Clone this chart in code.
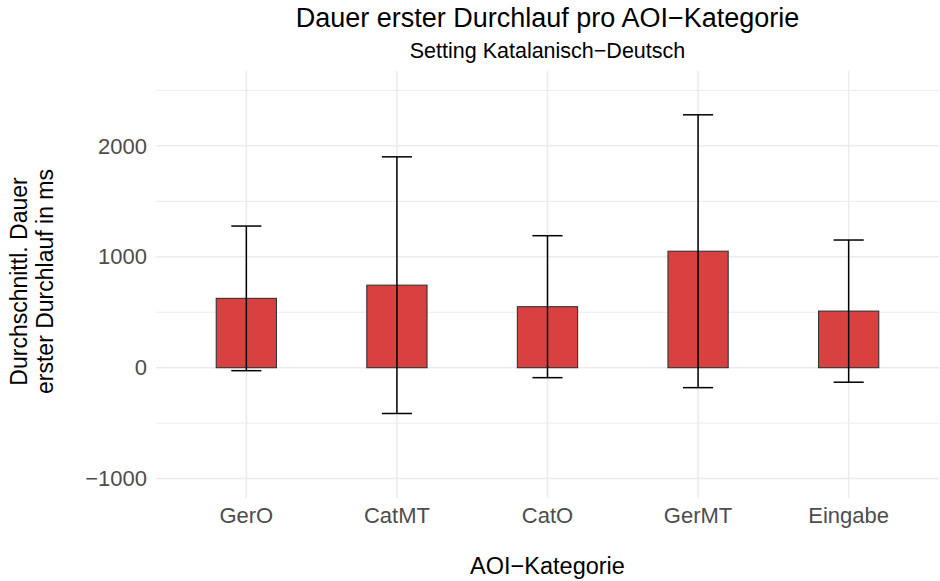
<!DOCTYPE html>
<html>
<head>
<meta charset="utf-8">
<script src="https://cdn.jsdelivr.net/npm/d3@7"></script>
<style>
  body { margin: 0; background: #fff; }
  svg { font-family: "Liberation Sans", Arial, sans-serif; display: block; }
  .grid line { stroke: #ebebeb; }
  .tick-label { fill: #4d4d4d; font-size: 22px; }
</style>
</head>
<body>
<div id="app"></div>
<script>
// data
const categories = ["GerO", "CatMT", "CatO", "GerMT", "Eingabe"];
const meanValues = [625, 744, 550, 1050, 510];
const sdValues = [652, 1157, 640, 1230, 641];
const majorTicks = [-1000, 0, 1000, 2000];
const minorTicks = [-500, 500, 1500, 2500];
const yLimits = [-1000, 2500];

const chart = {
  width: 940,
  height: 581,
  left: 156,
  right: 939,
  top: 71,
  bottom: 498,
};

const svg = d3
  .select("#app")
  .append("svg")
  .attr("width", chart.width)
  .attr("height", chart.height);

// ggplot style 5% expansion on the limits
const span = yLimits[1] - yLimits[0];
const yScale = d3
  .scaleLinear()
  .domain([yLimits[0] - span * 0.05, yLimits[1] + span * 0.05])
  .range([chart.bottom, chart.top]);

const xScale = d3
  .scalePoint()
  .domain(categories)
  .range([chart.left, chart.right])
  .padding(0.6);
const step = xScale.step();

//grid lines
const grid = svg.append("g").attr("class", "grid");
grid
  .selectAll("line.minor")
  .data(minorTicks)
  .join("line")
  .attr("class", "minor")
  .attr("x1", chart.left)
  .attr("x2", chart.right)
  .attr("y1", (d) => yScale(d))
  .attr("y2", (d) => yScale(d))
  .attr("stroke-width", 1);
grid
  .selectAll("line.major-y")
  .data(majorTicks)
  .join("line")
  .attr("class", "major-y")
  .attr("x1", chart.left)
  .attr("x2", chart.right)
  .attr("y1", (d) => yScale(d))
  .attr("y2", (d) => yScale(d))
  .attr("stroke-width", 1.5);
grid
  .selectAll("line.major-x")
  .data(categories)
  .join("line")
  .attr("class", "major-x")
  .attr("x1", (d) => xScale(d))
  .attr("x2", (d) => xScale(d))
  .attr("y1", chart.top)
  .attr("y2", chart.bottom)
  .attr("stroke-width", 1.5);

const rows = categories.map((c, i) => ({
  cat: c,
  mean: meanValues[i],
  sd: sdValues[i],
}));

// bars
const barWidth = step * 0.4;
svg
  .append("g")
  .selectAll("rect")
  .data(rows)
  .join("rect")
  .attr("x", (d) => xScale(d.cat) - barWidth / 2)
  .attr("width", barWidth)
  .attr("y", (d) => yScale(Math.max(0, d.mean)))
  .attr("height", (d) => Math.abs(yScale(d.mean) - yScale(0)))
  .attr("fill", "#d94141")
  .attr("stroke", "#333333")
  .attr("stroke-width", 1.1);

// error bars
const whisker = step * 0.2;
const errs = svg.append("g").attr("stroke", "#000").attr("stroke-width", 1.5);
errs
  .selectAll("line.stem")
  .data(rows)
  .join("line")
  .attr("class", "stem")
  .attr("x1", (d) => xScale(d.cat))
  .attr("x2", (d) => xScale(d.cat))
  .attr("y1", (d) => yScale(d.mean - d.sd))
  .attr("y2", (d) => yScale(d.mean + d.sd));
["top", "bot"].forEach((end) => {
  errs
    .selectAll("line." + end)
    .data(rows)
    .join("line")
    .attr("class", end)
    .attr("x1", (d) => xScale(d.cat) - whisker / 2)
    .attr("x2", (d) => xScale(d.cat) + whisker / 2)
    .attr("y1", (d) => yScale(end === "top" ? d.mean + d.sd : d.mean - d.sd))
    .attr("y2", (d) => yScale(end === "top" ? d.mean + d.sd : d.mean - d.sd));
});

// axis labels
const fmt = (v) => (v < 0 ? "\u2212" + Math.abs(v) : String(v));
svg
  .append("g")
  .selectAll("text")
  .data(majorTicks)
  .join("text")
  .attr("class", "tick-label")
  .attr("x", chart.left - 9)
  .attr("y", (d) => yScale(d))
  .attr("dy", "0.35em")
  .attr("text-anchor", "end")
  .text(fmt);
svg
  .append("g")
  .selectAll("text")
  .data(categories)
  .join("text")
  .attr("class", "tick-label")
  .attr("x", (d) => xScale(d))
  .attr("y", 522.5)
  .attr("text-anchor", "middle")
  .text((d) => d);

// titles
const midX = (chart.left + chart.right) / 2;
svg
  .append("text")
  .attr("x", midX)
  .attr("y", 26.5)
  .attr("text-anchor", "middle")
  .attr("font-size", 27)
  .text("Dauer erster Durchlauf pro AOI\u2212Kategorie");
svg
  .append("text")
  .attr("x", midX)
  .attr("y", 57.5)
  .attr("text-anchor", "middle")
  .attr("font-size", 21.5)
  .text("Setting Katalanisch\u2212Deutsch");
svg
  .append("text")
  .attr("x", midX)
  .attr("y", 574)
  .attr("text-anchor", "middle")
  .attr("font-size", 23.5)
  .text("AOI\u2212Kategorie");

const yTitle = svg
  .append("text")
  .attr("transform", `translate(27, ${(chart.top + chart.bottom) / 2 - 3}) rotate(-90)`)
  .attr("text-anchor", "middle")
  .attr("font-size", 23);
yTitle.append("tspan").attr("x", 0).attr("y", 0).text("Durchschnittl. Dauer");
yTitle.append("tspan").attr("x", 0).attr("y", 26).text("erster Durchlauf in ms");
</script>
</body>
</html>
